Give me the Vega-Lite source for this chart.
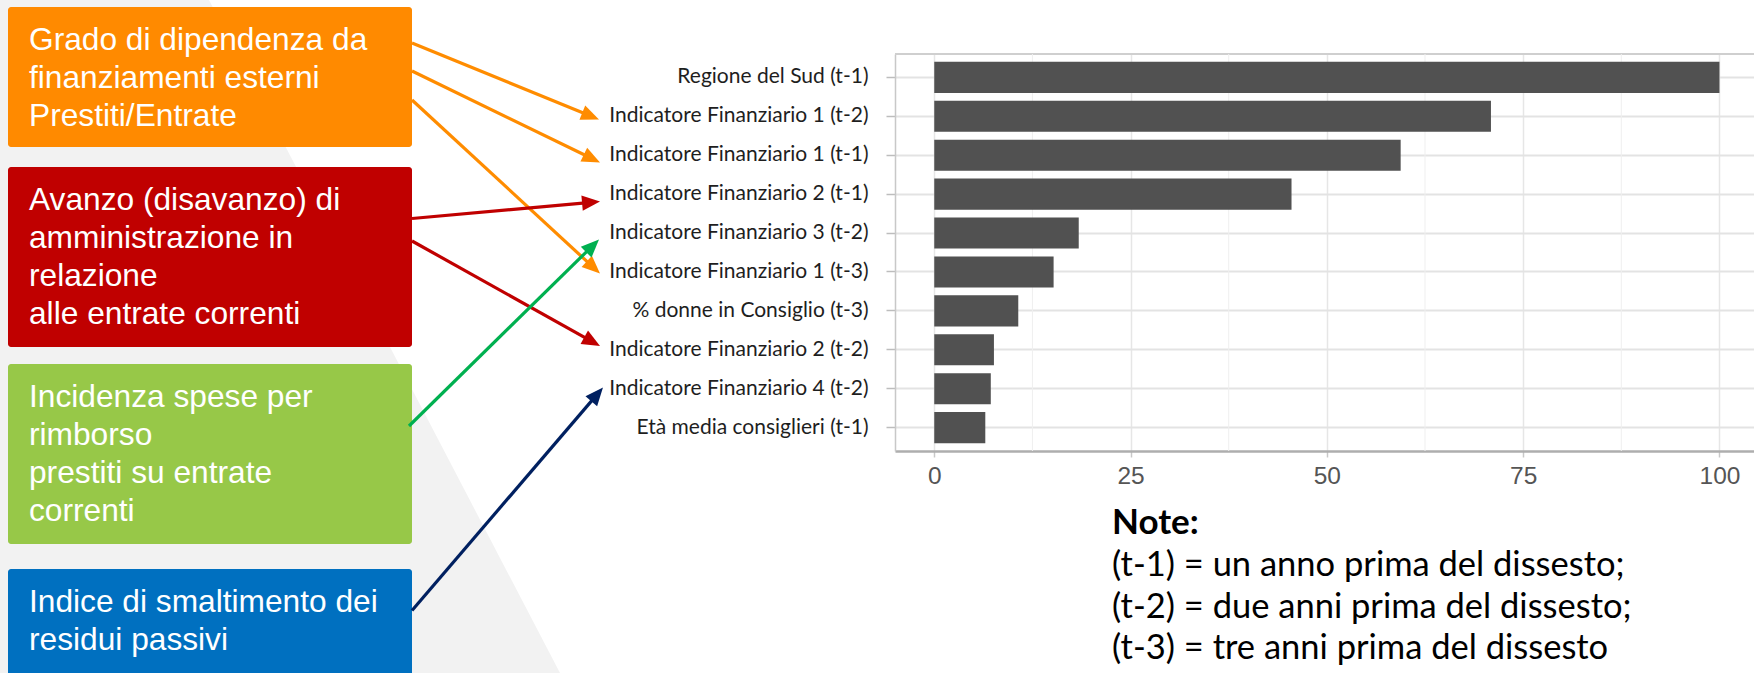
{
  "$schema": "https://vega.github.io/schema/vega-lite/v6.json",
  "usermeta": {"embedOptions": {"actions": false}},
  "autosize": {"type": "none"},
  "padding": {"left": 895, "top": 54, "right": 0, "bottom": 222},
  "width": 859,
  "height": 397,
  "background": "white",
  "config": {"view": {"stroke": null}},
  "datasets": {
    "bars": [
      {"variabile": "Regione del Sud (t-1)", "importanza": 100},
      {"variabile": "Indicatore Finanziario 1 (t-2)", "importanza": 70.9},
      {"variabile": "Indicatore Finanziario 1 (t-1)", "importanza": 59.4},
      {"variabile": "Indicatore Finanziario 2 (t-1)", "importanza": 45.5},
      {"variabile": "Indicatore Finanziario 3 (t-2)", "importanza": 18.4},
      {"variabile": "Indicatore Finanziario 1 (t-3)", "importanza": 15.2},
      {"variabile": "% donne in Consiglio (t-3)", "importanza": 10.7},
      {"variabile": "Indicatore Finanziario 2 (t-2)", "importanza": 7.6},
      {"variabile": "Indicatore Finanziario 4 (t-2)", "importanza": 7.2},
      {"variabile": "Età media consiglieri (t-1)", "importanza": 6.5}
    ],
    "minorgrid": [{"v": 12.5}, {"v": 37.5}, {"v": 62.5}, {"v": 87.5}],
    "bg": [
      {"x": 0, "y": 0, "y2": 673},
      {"x": 209, "y": 0, "y2": 673},
      {"x": 560, "y": 673, "y2": 673}
    ],
    "boxes": [
      {"box": "Grado", "x": 8, "x2": 412, "y": 7, "y2": 147, "lines": ["Grado di dipendenza da", "finanziamenti esterni", "Prestiti/Entrate"]},
      {"box": "Avanzo", "x": 8, "x2": 412, "y": 167, "y2": 347, "lines": ["Avanzo (disavanzo) di", "amministrazione in", "relazione", "alle entrate correnti"]},
      {"box": "Incidenza", "x": 8, "x2": 412, "y": 364, "y2": 544, "lines": ["Incidenza spese per", "rimborso", "prestiti su entrate", "correnti"]},
      {"box": "Indice", "x": 8, "x2": 412, "y": 569, "y2": 709, "lines": ["Indice di smaltimento dei", "residui passivi"]}
    ],
    "arrows": [
      {"box": "Grado", "target": "Indicatore Finanziario 1 (t-2)", "sx": 412, "sy": 43, "tx": 599, "ty": 119.5},
      {"box": "Grado", "target": "Indicatore Finanziario 1 (t-1)", "sx": 412, "sy": 71, "tx": 600, "ty": 162.5},
      {"box": "Grado", "target": "Indicatore Finanziario 1 (t-3)", "sx": 412, "sy": 100, "tx": 600, "ty": 273.5},
      {"box": "Avanzo", "target": "Indicatore Finanziario 2 (t-1)", "sx": 412, "sy": 218.5, "tx": 600, "ty": 201.5},
      {"box": "Avanzo", "target": "Indicatore Finanziario 2 (t-2)", "sx": 412, "sy": 241, "tx": 600, "ty": 346},
      {"box": "Incidenza", "target": "Indicatore Finanziario 3 (t-2)", "sx": 409, "sy": 426, "tx": 599, "ty": 239.5},
      {"box": "Indice", "target": "Indicatore Finanziario 4 (t-2)", "sx": 412, "sy": 610.5, "tx": 603, "ty": 387.5}
    ],
    "border": [{"x": 895, "x2": 1754, "y": 54}],
    "notetitle": [{"x": 1112, "y": 534, "t": "Note:"}],
    "notelines": [{"x": 1112, "y": 576, "lines": ["(t-1) = un anno prima del dissesto;", "(t-2) = due anni prima del dissesto;", "(t-3) = tre anni prima del dissesto"]}]
  },
  "resolve": {"scale": {"x": "independent", "y": "independent"}},
  "layer": [
    {
      "layer": [
        {
          "data": {"name": "bg"},
          "mark": {"type": "area", "orient": "vertical", "color": "#f2f2f2", "opacity": 1},
          "encoding": {
            "x": {"field": "x", "type": "quantitative", "scale": {"domain": [895, 1754], "nice": false, "zero": false}, "axis": null},
            "y": {"field": "y", "type": "quantitative", "scale": {"domain": [54, 451], "nice": false, "zero": false, "reverse": true}, "axis": null},
            "y2": {"field": "y2"}
          }
        },
        {
          "data": {"name": "boxes"},
          "mark": {"type": "rect", "cornerRadius": 3},
          "encoding": {
            "x": {"field": "x", "type": "quantitative", "scale": {"domain": [895, 1754], "nice": false, "zero": false}, "axis": null},
            "x2": {"field": "x2"},
            "y": {"field": "y", "type": "quantitative", "scale": {"domain": [54, 451], "nice": false, "zero": false, "reverse": true}, "axis": null},
            "y2": {"field": "y2"},
            "fill": {"field": "box", "type": "nominal", "scale": {"domain": ["Grado", "Avanzo", "Incidenza", "Indice"], "range": ["#FF8A00", "#C00000", "#97C848", "#0070C0"]}, "legend": null}
          }
        },
        {
          "data": {"name": "boxes"},
          "mark": {"type": "text", "align": "left", "baseline": "alphabetic", "dx": 21, "dy": 43, "font": "Liberation Sans", "fontSize": 31.7, "lineHeight": 38, "color": "white"},
          "encoding": {
            "x": {"field": "x", "type": "quantitative", "scale": {"domain": [895, 1754], "nice": false, "zero": false}, "axis": null},
            "y": {"field": "y", "type": "quantitative", "scale": {"domain": [54, 451], "nice": false, "zero": false, "reverse": true}, "axis": null},
            "text": {"field": "lines"}
          }
        },
        {
          "data": {"name": "arrows"},
          "transform": [
            {"calculate": "sqrt(pow(datum.tx - datum.sx, 2) + pow(datum.ty - datum.sy, 2))", "as": "len"},
            {"calculate": "datum.tx - 9 * (datum.tx - datum.sx) / datum.len", "as": "hx"},
            {"calculate": "datum.ty - 9 * (datum.ty - datum.sy) / datum.len", "as": "hy"},
            {"calculate": "atan2(datum.ty - datum.sy, datum.tx - datum.sx) * 180 / PI", "as": "ang"}
          ],
          "layer": [
            {
              "mark": {"type": "rule", "strokeWidth": 3.2},
              "encoding": {
                "x": {"field": "sx", "type": "quantitative", "scale": {"domain": [895, 1754], "nice": false, "zero": false}, "axis": null},
                "x2": {"field": "hx"},
                "y": {"field": "sy", "type": "quantitative", "scale": {"domain": [54, 451], "nice": false, "zero": false, "reverse": true}, "axis": null},
                "y2": {"field": "hy"},
                "stroke": {"field": "box", "type": "nominal", "scale": {"domain": ["Grado", "Avanzo", "Incidenza", "Indice"], "range": ["#FF8C00", "#C00000", "#00B050", "#002060"]}, "legend": null}
              }
            },
            {
              "mark": {"type": "point", "shape": "M-1,-0.85L1,0L-1,0.85Z", "filled": true, "size": 324, "opacity": 1, "strokeWidth": 0},
              "encoding": {
                "x": {"field": "hx", "type": "quantitative", "scale": {"domain": [895, 1754], "nice": false, "zero": false}, "axis": null},
                "y": {"field": "hy", "type": "quantitative", "scale": {"domain": [54, 451], "nice": false, "zero": false, "reverse": true}, "axis": null},
                "angle": {"field": "ang", "type": "quantitative", "scale": null},
                "color": {"field": "box", "type": "nominal", "scale": {"domain": ["Grado", "Avanzo", "Incidenza", "Indice"], "range": ["#FF8C00", "#C00000", "#00B050", "#002060"]}, "legend": null}
              }
            }
          ]
        },
        {
          "data": {"name": "border"},
          "mark": {"type": "rule", "color": "#cfcfcf", "strokeWidth": 2},
          "encoding": {
            "x": {"field": "x", "type": "quantitative", "scale": {"domain": [895, 1754], "nice": false, "zero": false}, "axis": null},
            "x2": {"field": "x2"},
            "y": {"field": "y", "type": "quantitative", "scale": {"domain": [54, 451], "nice": false, "zero": false, "reverse": true}, "axis": null}
          }
        },
        {
          "data": {"name": "notetitle"},
          "mark": {"type": "text", "align": "left", "baseline": "alphabetic", "font": "Lato", "fontWeight": "bold", "fontSize": 35, "color": "black"},
          "encoding": {
            "x": {"field": "x", "type": "quantitative", "scale": {"domain": [895, 1754], "nice": false, "zero": false}, "axis": null},
            "y": {"field": "y", "type": "quantitative", "scale": {"domain": [54, 451], "nice": false, "zero": false, "reverse": true}, "axis": null},
            "text": {"field": "t"}
          }
        },
        {
          "data": {"name": "notelines"},
          "mark": {"type": "text", "align": "left", "baseline": "alphabetic", "font": "Lato", "fontSize": 34.5, "lineHeight": 41.5, "color": "black"},
          "encoding": {
            "x": {"field": "x", "type": "quantitative", "scale": {"domain": [895, 1754], "nice": false, "zero": false}, "axis": null},
            "y": {"field": "y", "type": "quantitative", "scale": {"domain": [54, 451], "nice": false, "zero": false, "reverse": true}, "axis": null},
            "text": {"field": "lines"}
          }
        }
      ]
    },
    {
      "data": {"name": "bars"},
      "layer": [
        {
          "data": {"name": "minorgrid"},
          "mark": {"type": "rule", "color": "#efefef", "strokeWidth": 1},
          "encoding": {
            "x": {"field": "v", "type": "quantitative", "title": null}
          }
        },
        {
          "mark": {"type": "bar", "color": "#515151"},
          "encoding": {
            "y": {
              "field": "variabile", "type": "nominal", "sort": "-x",
              "scale": {"paddingInner": 0.2, "paddingOuter": 0.2},
              "axis": {"title": null, "domainColor": "#c8c8c8", "domainWidth": 1.5, "tickColor": "#bdbdbd", "tickSize": 9, "tickWidth": 1.5, "labelFont": "Lato", "labelFontSize": 21, "labelColor": "#1e1e1e", "labelPadding": 18, "labelLimit": 400, "grid": true, "gridColor": "#e3e3e3", "gridWidth": 2, "tickBand": "center"}
            },
            "x": {
              "field": "importanza", "type": "quantitative", "title": null,
              "scale": {"domain": [-5, 104.4], "nice": false},
              "axis": {"values": [0, 25, 50, 75, 100], "domainColor": "#aeaeae", "domainWidth": 2.5, "tickColor": "#c8c8c8", "tickSize": 6, "tickWidth": 1.5, "labelFont": "Liberation Sans", "labelFontSize": 24.5, "labelColor": "#555555", "labelPadding": 7, "labelFlush": false, "grid": true, "gridColor": "#e6e6e6", "gridWidth": 1.5}
            }
          }
        }
      ]
    }
  ]
}
